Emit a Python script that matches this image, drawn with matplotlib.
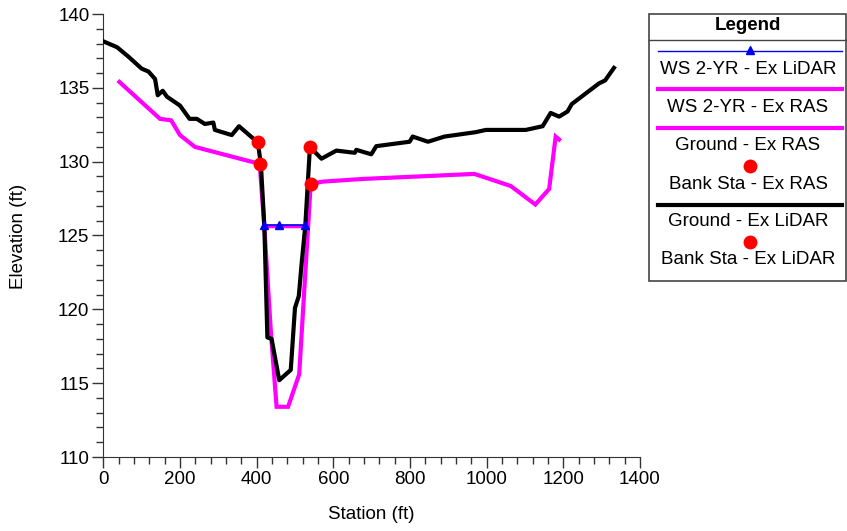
import matplotlib
matplotlib.use("Agg")
import matplotlib.pyplot as plt
from matplotlib.lines import Line2D
from matplotlib.patches import Rectangle
from matplotlib.ticker import MultipleLocator

plt.rcParams['font.family'] = ['Liberation Sans', 'DejaVu Sans']

# ---- data ----
ground_lidar_sta = [0, 36, 66, 100, 118, 135, 142, 155, 166, 200, 225, 244, 265, 287, 291, 335, 354,
                    403, 411, 420, 428, 439, 459, 489, 500, 510, 517, 527, 539, 569, 608, 656, 660,
                    699, 712, 799, 807, 847, 890, 972, 998, 1102, 1146, 1167, 1189, 1211, 1222,
                    1293, 1309, 1332]
ground_lidar_elev = [138.15, 137.75, 137.1, 136.3, 136.1, 135.6, 134.5, 134.8, 134.4, 133.8, 132.9,
                     132.9, 132.55, 132.65, 132.15, 131.8, 132.4, 131.3, 129.85, 125.7, 118.1, 118.0,
                     115.2, 115.9, 120.1, 120.9, 123.0, 125.7, 131.0, 130.2, 130.75, 130.6, 130.8,
                     130.5, 131.05, 131.35, 131.7, 131.35, 131.7, 132.0, 132.15, 132.15, 132.4,
                     133.3, 133.05, 133.4, 133.9, 135.3, 135.5, 136.35]

ground_ras_sta = [42, 148, 177, 200, 239, 408, 420, 437, 452, 482, 511, 541, 573, 677, 968, 1063,
                  1127, 1163, 1180, 1189]
ground_ras_elev = [135.4, 132.9, 132.8, 131.8, 131.0, 129.85, 125.6, 118.5, 113.4, 113.4, 115.6,
                   128.5, 128.65, 128.83, 129.17, 128.35, 127.1, 128.15, 131.7, 131.5]

bank_ras_sta = [408, 541]
bank_ras_elev = [129.85, 128.5]
bank_lidar_sta = [403, 539]
bank_lidar_elev = [131.3, 131.0]

ws_lidar_sta = [420, 459, 527]
ws_lidar_elev = [125.7, 125.7, 125.7]
ws_ras_sta = [420, 530]
ws_ras_elev = [125.65, 125.65]

legend_labels = ["WS 2-YR - Ex LiDAR", "WS 2-YR - Ex RAS", "Ground - Ex RAS",
                 "Bank Sta - Ex RAS", "Ground - Ex LiDAR", "Bank Sta - Ex LiDAR"]

# ---- figure ----
W, H = 847, 531
fig = plt.figure(figsize=(W / 100, H / 100), dpi=100)
ax = fig.add_axes([103.3 / W, 1 - 457 / H, (640 - 103.3) / W, (457 - 14) / H])


def fx(px):
    return px / W


def fy(py):
    return 1 - py / H


MAG = '#ff00ff'
ax.plot(ground_ras_sta, ground_ras_elev, color=MAG, lw=3, zorder=2, solid_joinstyle='miter')
ax.plot(ws_ras_sta, ws_ras_elev, color=MAG, lw=2.5, zorder=3)
ax.plot(ground_lidar_sta, ground_lidar_elev, color='black', lw=3, zorder=4)
ax.plot(ws_lidar_sta, ws_lidar_elev, color='#0000ee', lw=1.2, marker='^', markersize=6, zorder=5)
ax.plot(bank_ras_sta, bank_ras_elev, 'o', color='#ff0000', markersize=10, zorder=6, markeredgewidth=0)
ax.plot(bank_lidar_sta, bank_lidar_elev, 'o', color='#ff0000', markersize=10, zorder=6, markeredgewidth=0)

ax.set_xlim(0, 1400)
ax.set_ylim(110, 140)
ax.xaxis.set_major_locator(MultipleLocator(200))
ax.xaxis.set_minor_locator(MultipleLocator(40))
ax.yaxis.set_major_locator(MultipleLocator(5))
ax.yaxis.set_minor_locator(MultipleLocator(1))
ax.tick_params(axis='both', which='major', length=8, width=1, labelsize=13.5, color='#333333', pad=2)
ax.tick_params(axis='both', which='minor', length=5, width=1, color='#333333')
ax.spines['top'].set_visible(False)
ax.spines['right'].set_visible(False)
for s in ('left', 'bottom'):
    ax.spines[s].set_color('#333333')
ax.set_xlabel("Station (ft)", fontsize=13.5)
ax.set_ylabel("Elevation (ft)", fontsize=13.5)
ax.xaxis.set_label_coords(fx(371.5), fy(506), transform=fig.transFigure)
ax.yaxis.set_label_coords(fx(27), fy(236), transform=fig.transFigure)

# ---- legend (HEC-RAS style, drawn manually) ----
tf = fig.transFigure
fig.add_artist(Rectangle((fx(649), fy(281)), fx(846) - fx(649), fy(14) - fy(281),
                         transform=tf, facecolor='white', edgecolor='#444444', lw=1.2))
fig.add_artist(Line2D([fx(649), fx(846)], [fy(39.5), fy(39.5)], transform=tf, color='#444444', lw=1))
fig.text(fx(747.5), fy(25.5), "Legend", fontsize=13.5, fontweight='bold', ha='center', va='center')

cx = 750
x0, x1 = 658, 842
fig.add_artist(Line2D([fx(x0), fx(x1)], [fy(51), fy(51)], transform=tf, color='#0000ee', lw=1))
fig.add_artist(Line2D([fx(cx)], [fy(50)], transform=tf, color='#0000ee', marker='^', markersize=6, lw=0))
fig.add_artist(Line2D([fx(x0), fx(x1)], [fy(89.3), fy(89.3)], transform=tf, color=MAG, lw=3))
fig.add_artist(Line2D([fx(x0), fx(x1)], [fy(127.7), fy(127.7)], transform=tf, color=MAG, lw=3))
fig.add_artist(Line2D([fx(cx)], [fy(166)], transform=tf, color='#ff0000', marker='o', markersize=10, lw=0, markeredgewidth=0))
fig.add_artist(Line2D([fx(x0), fx(x1)], [fy(205), fy(205)], transform=tf, color='black', lw=3))
fig.add_artist(Line2D([fx(cx)], [fy(242)], transform=tf, color='#ff0000', marker='o', markersize=10, lw=0, markeredgewidth=0))

text_y = [69, 107.5, 145.5, 184, 222, 260]
for lab, ty in zip(legend_labels, text_y):
    fig.text(fx(748), fy(ty), lab, fontsize=13.5, ha='center', va='center')

fig.savefig("out.png", dpi=100)
